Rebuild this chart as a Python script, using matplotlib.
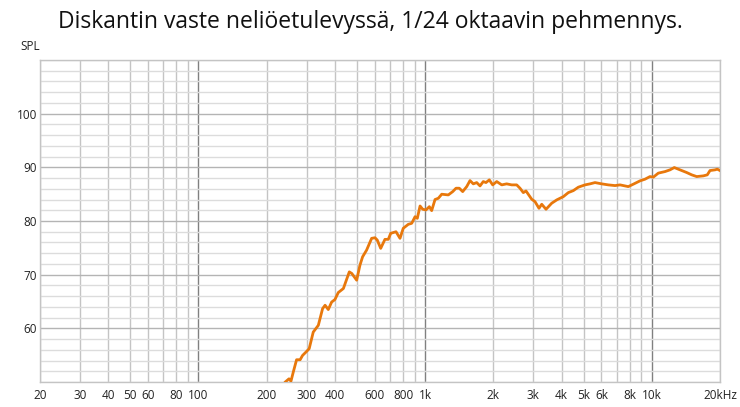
import matplotlib
matplotlib.use("Agg")
import matplotlib.pyplot as plt
import numpy as np

# Frequency response (Hz, dB SPL)
freq = [230, 241, 251, 256, 262, 271, 281, 288, 298, 308, 321, 338, 353, 362, 374,
        387, 400, 414, 436, 463, 475, 499, 516, 530, 552, 581, 601, 615, 637, 665,
        688, 705, 744, 775, 801, 843, 873, 903, 924, 950, 976, 1009, 1044, 1069,
        1106, 1144, 1184, 1266, 1324, 1369, 1415, 1465, 1526, 1578, 1632, 1689,
        1747, 1806, 1856, 1920, 1987, 2070, 2178, 2290, 2410, 2536, 2622, 2712,
        2787, 2953, 3054, 3180, 3270, 3416, 3618, 3808, 4072, 4284, 4507, 4742,
        5075, 5340, 5618, 6014, 6431, 6884, 7243, 7878, 8290, 8874, 9335, 9822,
        10157, 10686, 11440, 12034, 12572, 13322, 14263, 15004, 15786, 16882,
        17579, 18068, 19010, 19458, 20000]
spl = [48.5, 49.96, 50.6, 50.15, 51.83, 54.15, 54.15, 54.95, 55.57, 56.2, 59.3,
       60.56, 63.68, 64.3, 63.5, 64.9, 65.36, 66.67, 67.42, 70.52, 70.22, 68.97,
       71.78, 73.33, 74.58, 76.77, 76.88, 76.45, 74.9, 76.58, 76.58, 77.7, 78.0,
       76.77, 78.64, 79.38, 79.57, 80.8, 80.5, 82.8, 82.19, 82.06, 82.67, 81.93,
       84.0, 84.24, 84.99, 84.86, 85.48, 86.11, 86.11, 85.48, 86.41, 87.53, 86.92,
       87.16, 86.54, 87.35, 87.16, 87.66, 86.73, 87.35, 86.73, 86.92, 86.73, 86.73,
       86.11, 85.29, 85.6, 84.06, 83.61, 82.37, 83.12, 82.19, 83.31, 83.93, 84.54,
       85.29, 85.66, 86.3, 86.73, 86.92, 87.16, 86.92, 86.73, 86.6, 86.73, 86.41,
       86.86, 87.48, 87.79, 88.28, 88.17, 88.92, 89.21, 89.53, 89.96, 89.53, 89.03,
       88.6, 88.28, 88.41, 88.6, 89.4, 89.53, 89.66, 89.4]

grid_freqs = [20, 30, 40, 50, 60, 70, 80, 90, 100, 200, 300, 400, 500, 600, 700,
              800, 900, 1000, 2000, 3000, 4000, 5000, 6000, 7000, 8000, 9000,
              10000, 20000]
grid_labels = ["20", "30", "40", "50", "60", "", "80", "", "100", "200", "300",
               "400", "", "600", "", "800", "", "1k", "2k", "3k", "4k", "5k", "6k",
               "", "8k", "", "10k", "20kHz"]
y_labels = [60, 70, 80, 90, 100]

plt.rcParams['font.family'] = ['Open Sans', 'DejaVu Sans']

fig = plt.figure(figsize=(7.4, 4.07), dpi=100)
ax = fig.add_axes([40 / 740, 1 - 382 / 407, 680 / 740, 322 / 407])

ax.plot(freq, spl, color='#E8780C', lw=2, solid_joinstyle='round', zorder=3)

ax.set_xscale('log')
ax.set_xlim(20, 20000)
ax.set_ylim(50, 110)

ax.set_xticks(grid_freqs)
ax.set_xticklabels(grid_labels)
ax.xaxis.set_minor_locator(matplotlib.ticker.NullLocator())
ax.set_yticks(np.arange(50, 111, 2), minor=True)
ax.set_yticks(y_labels)
ax.set_yticklabels([str(v) for v in y_labels])

ax.tick_params(axis='both', which='both', length=0, labelsize=8.5, colors='#222222')
ax.tick_params(axis='x', pad=5)
ax.tick_params(axis='y', pad=2)

ax.grid(True, axis='x', color='#c4c4c4', lw=1)
ax.grid(True, axis='y', which='major', color='#b4b4b4', lw=1)
ax.grid(True, axis='y', which='minor', color='#dcdcdc', lw=1)
for f, gl in zip(grid_freqs, ax.get_xgridlines()):
    if f in (100, 1000, 10000):
        gl.set_color('#808080')

for s in ax.spines.values():
    s.set_color('#c4c4c4')
    s.set_linewidth(1)

fig.text(20 / 740, 1 - 47 / 407, "SPL", fontsize=8.5, va='center', ha='left',
         color='#222222')
fig.text(370 / 740, 1 - 22 / 407,
         "Diskantin vaste neliöetulevyssä, 1/24 oktaavin pehmennys.",
         fontsize=16.5, ha='center', va='center', color='#111111')

fig.savefig('out.png', dpi=100)
